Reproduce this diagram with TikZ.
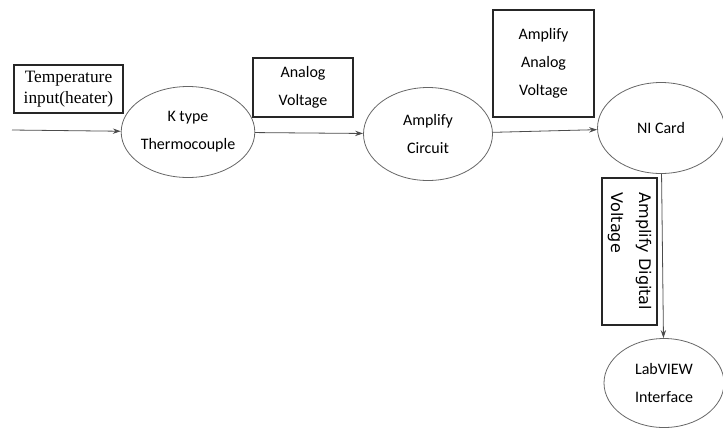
\documentclass[tikz,border=0pt]{standalone}
\usepackage{fontspec}
\setmainfont{Carlito}
\newfontfamily\serifin{Liberation Serif}
\newfontfamily\wideface{DejaVu Sans}
\usetikzlibrary{shapes.geometric,arrows.meta}
\begin{document}
\begin{tikzpicture}[x=0.75pt,y=-0.75pt,
    blk/.style={draw=black!85,line width=0.8pt,align=center,font=\fontsize{12}{21}\selectfont},
    unit/.style={ellipse,draw=black!60,line width=0.6pt,align=center,inner sep=0pt,font=\fontsize{12}{21}\selectfont},
    flow/.style={draw=black!70,line width=0.6pt,-{Stealth[length=6pt,width=4pt]}}]
    \useasboundingbox (0,0) rectangle (723,430);

    \node[unit,minimum width=95.25pt,minimum height=68.25pt] (tc) at (188,132) {K type\\Thermocouple};
    \node[unit,minimum width=96.75pt,minimum height=69.75pt] (amp) at (428,134) {Amplify\\Circuit};
    \node[unit,minimum width=95.25pt,minimum height=68.25pt] (ni) at (661,128) {NI Card};
    \node[unit,minimum width=90pt,minimum height=66.75pt] (lab) at (664,383) {LabVIEW\\Interface};

    \node[blk,minimum width=81.75pt,minimum height=36pt,font=\serifin\fontsize{13}{16}\selectfont] (temp) at (68.5,89) {Temperature\\input(heater)};
    \node[blk,minimum width=75pt,minimum height=44.25pt] (av) at (303,87.5) {Analog\\Voltage};
    \node[blk,minimum width=75.75pt,minimum height=80.25pt] (aav) at (543.5,63.5) {Amplify\\Analog\\Voltage};
    \node[blk,rotate=-90,align=left,minimum width=110.25pt,minimum height=41.25pt,font=\wideface\fontsize{12}{21}\selectfont] (adv) at (629.5,251.5) {Amplify Digital\\Voltage};

    \coordinate (src) at (12,130);
    \draw[flow] (src) -- (tc);
    \draw[flow] (tc) -- (amp);
    \draw[flow] (amp) -- (ni);
    \draw[flow] (ni) -- (lab);
\end{tikzpicture}
\end{document}
